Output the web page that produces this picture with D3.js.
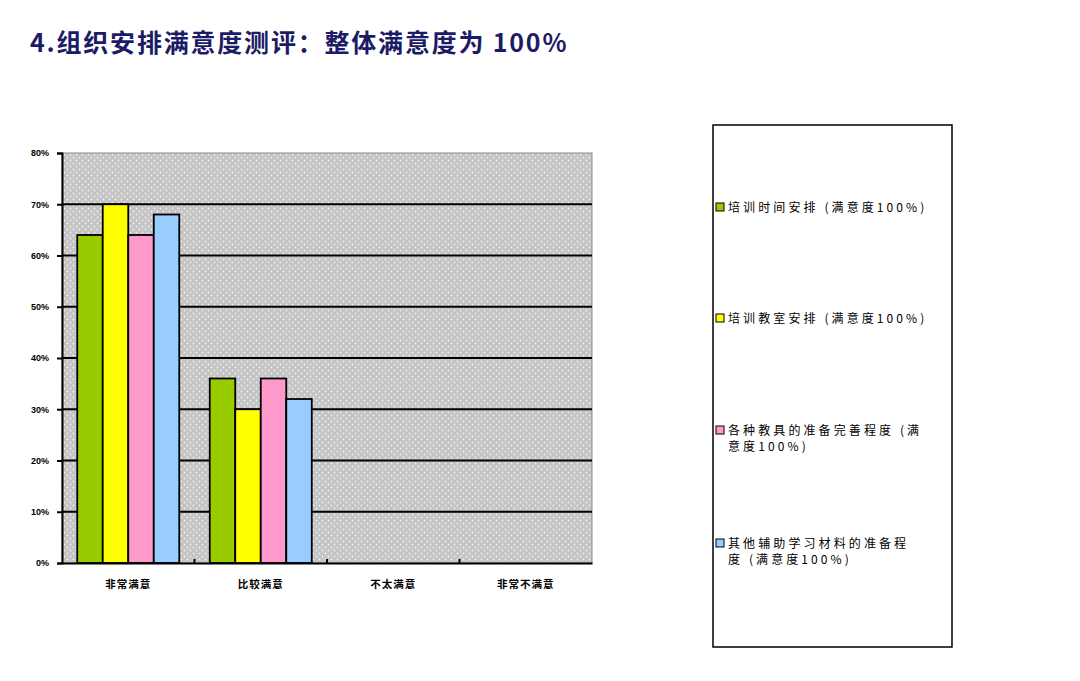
<!DOCTYPE html>
<html>
<head>
<meta charset="utf-8">
<script src="https://cdn.jsdelivr.net/npm/d3@7"></script>
<style>
  body { margin: 0; background: #fff; }
  svg { display: block; }
</style>
</head>
<body>
<svg width="1080" height="681"></svg>
<script>

// DATA ––––––––––––––––––––––––––––––––––––––––––––––––––––––––––––––––

var categories = ["非常满意", "比较满意", "不太满意", "非常不满意"];
var seriesNames = [
  "培训时间安排 (满意度100%)",
  "培训教室安排 (满意度100%)",
  "各种教具的准备完善程度 (满意度100%)",
  "其他辅助学习材料的准备程度 (满意度100%)"
];
var timeValues = [64, 36, 0, 0];
var roomValues = [70, 30, 0, 0];
var toolValues = [64, 36, 0, 0];
var materialValues = [68, 32, 0, 0];
var yTicks = [0, 10, 20, 30, 40, 50, 60, 70, 80];
var colors = ["#99cc00", "#ffff00", "#ff99cc", "#99ccff"];
var title = "4.组织安排满意度测评：整体满意度为 100%";


// D3 ––––––––––––––––––––––––––––––––––––––––––––––––––––––––––––––––––

var draw = function() {
  var svg = d3.select("svg");
  var series = [timeValues, roomValues, toolValues, materialValues];

  svg.append("text")
    .attr("x", 30)
    .attr("y", 52)
    .attr("fill", "#1c1c66")
    .attr("font-family", "'Noto Sans CJK SC', sans-serif")
    .attr("font-weight", "bold")
    .attr("font-size", 25)
    .attr("letter-spacing", 1.8)
    .text(title);

  // dotted grey fill of the plot area
  var defs = svg.append("defs");
  var pat = defs.append("pattern")
    .attr("id", "dots")
    .attr("width", 6)
    .attr("height", 6)
    .attr("patternUnits", "userSpaceOnUse");
  pat.append("rect").attr("width", 6).attr("height", 6).attr("fill", "#c4c4c4");
  pat.append("circle").attr("cx", 1.5).attr("cy", 1.5).attr("r", 0.9).attr("fill", "#eeeeee");
  pat.append("circle").attr("cx", 4.5).attr("cy", 4.5).attr("r", 0.9).attr("fill", "#eeeeee");

  var left = 62, right = 592, top = 153, bottom = 563;

  var x0 = d3.scaleBand()
    .domain(categories)
    .range([left, right])
    .paddingInner(0.23)
    .paddingOuter(0.115);

  var x1 = d3.scaleBand()
    .domain(d3.range(series.length))
    .range([0, x0.bandwidth()]);

  var y = d3.scaleLinear()
    .domain([0, 80])
    .range([bottom, top]);

  var g = svg.append("g");

  g.append("rect")
    .attr("x", left)
    .attr("y", top)
    .attr("width", right - left)
    .attr("height", bottom - top)
    .attr("fill", "url(#dots)")
    .attr("stroke", "#8a8a8a")
    .attr("stroke-width", 1);

  // gridlines
  g.selectAll(".grid")
    .data(yTicks.filter(function(t) { return t > 0 && t < 80; }))
    .enter().append("line")
      .attr("x1", left)
      .attr("x2", right)
      .attr("y1", function(d) { return y(d); })
      .attr("y2", function(d) { return y(d); })
      .attr("stroke", "#000")
      .attr("stroke-width", 2);

  // bars
  categories.forEach(function(c, ci) {
    series.forEach(function(s, si) {
      if (s[ci] <= 0) return;
      g.append("rect")
        .attr("x", x0(c) + x1(si))
        .attr("y", y(s[ci]))
        .attr("width", x1.bandwidth())
        .attr("height", y(0) - y(s[ci]))
        .attr("fill", colors[si])
        .attr("stroke", "#000")
        .attr("stroke-width", 1.8);
    });
  });

  // y axis
  var yAxis = g.append("g")
    .attr("transform", "translate(" + left + ",0)")
    .call(d3.axisLeft(y)
      .tickValues(yTicks)
      .tickSize(5)
      .tickPadding(8)
      .tickFormat(function(d) { return d + "%"; }));
  yAxis.select(".domain").attr("stroke", "#000").attr("stroke-width", 2);
  yAxis.selectAll(".tick line").attr("stroke", "#000").attr("stroke-width", 2);
  yAxis.selectAll("text")
    .attr("fill", "#000")
    .attr("font-family", "Arial, 'Liberation Sans', sans-serif")
    .attr("font-weight", "bold")
    .attr("font-size", 9);

  // x axis
  var xAxis = g.append("g")
    .attr("transform", "translate(0," + bottom + ")")
    .call(d3.axisBottom(x0).tickSize(0).tickPadding(18));
  xAxis.select(".domain").attr("stroke", "#000").attr("stroke-width", 2);
  xAxis.selectAll("text")
    .attr("fill", "#000")
    .attr("font-family", "'Noto Sans CJK SC', sans-serif")
    .attr("font-weight", "bold")
    .attr("font-size", 10.5)
    .attr("letter-spacing", 1);

  // small boundary ticks between categories
  var step = (right - left) / categories.length;
  g.selectAll(".btick")
    .data(d3.range(1, categories.length))
    .enter().append("line")
      .attr("x1", function(i) { return left + i * step; })
      .attr("x2", function(i) { return left + i * step; })
      .attr("y1", bottom)
      .attr("y2", bottom - 4)
      .attr("stroke", "#000")
      .attr("stroke-width", 2);

  // legend
  var lg = svg.append("g");
  lg.append("rect")
    .attr("x", 713)
    .attr("y", 125)
    .attr("width", 239)
    .attr("height", 522)
    .attr("fill", "#fff")
    .attr("stroke", "#000")
    .attr("stroke-width", 1.5);

  var legendY = [207, 318, 430, 543];
  var legendLines = [
    [seriesNames[0]],
    [seriesNames[1]],
    ["各种教具的准备完善程度 (满", "意度100%)"],
    ["其他辅助学习材料的准备程", "度 (满意度100%)"]
  ];
  seriesNames.forEach(function(n, i) {
    lg.append("rect")
      .attr("x", 716)
      .attr("y", legendY[i] - 4)
      .attr("width", 8)
      .attr("height", 8)
      .attr("fill", colors[i])
      .attr("stroke", "#000")
      .attr("stroke-width", 1);
    var t = lg.append("text")
      .attr("x", 728)
      .attr("y", legendY[i] + 4.5)
      .attr("fill", "#000")
      .attr("font-family", "'Noto Sans CJK SC', sans-serif")
      .attr("font-size", 12)
      .attr("letter-spacing", 3.1);
    legendLines[i].forEach(function(line, li) {
      t.append("tspan")
        .attr("x", 728)
        .attr("dy", li === 0 ? 0 : 16)
        .text(line);
    });
  });
};

draw();
</script>
</body>
</html>
